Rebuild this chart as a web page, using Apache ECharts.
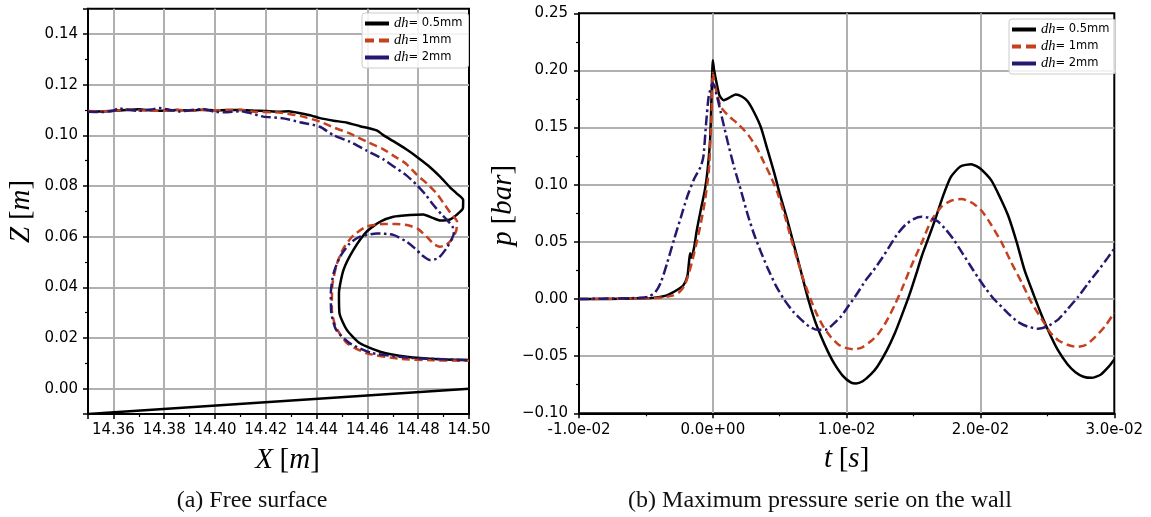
<!DOCTYPE html>
<html><head><meta charset="utf-8">
<script src="https://cdn.jsdelivr.net/npm/echarts@6/dist/echarts.min.js"></script>
<style>html,body{margin:0;padding:0;background:#fff}#c{width:1151px;height:517px}</style>
</head><body><div id="c"></div>
<script>
// ---------- (a) Free surface : X [m] / Z [m] ----------
const fsX_05 = [14.350,14.355,14.360,14.365,14.370,14.375,14.380,14.385,14.390,14.395,14.400,14.405,14.410,14.415,14.420,14.425,14.429,14.4335,14.438,14.4413,14.4467,14.4520,14.4571,14.4610,14.4640,14.4660,14.4702,14.4750,14.4794,14.4840,14.4886,14.4925,14.4951,14.4977,14.4976,14.4951,14.4925,14.4886,14.4860,14.4820,14.4768,14.4702,14.4650,14.4597,14.4545,14.4506,14.4488,14.4490,14.4519,14.4571,14.4650,14.4755,14.4886,14.5000];
const fsZ_05 = [0.1095,0.1094,0.1097,0.1100,0.1103,0.1098,0.1097,0.1100,0.1098,0.1101,0.1099,0.1100,0.1100,0.1098,0.1096,0.1093,0.1095,0.1087,0.1078,0.1068,0.1058,0.1050,0.1036,0.1027,0.1018,0.1003,0.0977,0.0947,0.0916,0.0880,0.0837,0.0795,0.0771,0.0745,0.0712,0.0686,0.0668,0.0664,0.0673,0.0688,0.0686,0.0679,0.0659,0.0620,0.0548,0.0469,0.0377,0.0298,0.0232,0.0179,0.0146,0.0126,0.0116,0.0113];
const fsX_1 = [14.350,14.355,14.360,14.365,14.370,14.375,14.380,14.385,14.390,14.395,14.400,14.405,14.410,14.415,14.420,14.425,14.4335,14.4413,14.4470,14.4530,14.4597,14.4663,14.4702,14.4750,14.4794,14.4840,14.4873,14.4905,14.4930,14.4953,14.4950,14.4935,14.4910,14.4885,14.4860,14.4833,14.4800,14.4760,14.4710,14.4663,14.4597,14.4545,14.4506,14.4479,14.4462,14.4460,14.4475,14.4519,14.4597,14.4728,14.4860,14.5000];
const fsZ_1 = [0.1096,0.1095,0.1097,0.1102,0.1099,0.1097,0.1097,0.1101,0.1097,0.1100,0.1099,0.1100,0.1101,0.1093,0.1092,0.1090,0.1077,0.1054,0.1030,0.1008,0.0975,0.0945,0.0920,0.0890,0.0845,0.0805,0.0770,0.0725,0.0690,0.0660,0.0625,0.0592,0.0568,0.0560,0.0572,0.0600,0.0630,0.0645,0.0650,0.0650,0.0640,0.0605,0.0555,0.0490,0.0410,0.0311,0.0245,0.0180,0.0140,0.0118,0.0112,0.0110];
const fsX_2 = [14.350,14.355,14.360,14.362,14.366,14.370,14.375,14.378,14.382,14.386,14.390,14.395,14.400,14.405,14.410,14.413,14.419,14.4269,14.4335,14.4413,14.4467,14.4530,14.4597,14.4663,14.4702,14.4750,14.4794,14.4830,14.4860,14.4890,14.4912,14.4935,14.4940,14.4930,14.4912,14.4879,14.4846,14.4814,14.4787,14.4755,14.4702,14.4637,14.4571,14.4531,14.4492,14.4467,14.4456,14.4458,14.4477,14.4531,14.4620,14.4768,14.4900,14.5000];
const fsZ_2 = [0.1093,0.1092,0.1097,0.1107,0.1100,0.1097,0.1102,0.1108,0.1101,0.1094,0.1099,0.1104,0.1093,0.1091,0.1096,0.1090,0.1074,0.1067,0.1052,0.1034,0.1000,0.0975,0.0940,0.0905,0.0878,0.0845,0.0805,0.0765,0.0725,0.0690,0.0668,0.0640,0.0613,0.0587,0.0555,0.0515,0.0508,0.0528,0.0554,0.0580,0.0607,0.0613,0.0600,0.0574,0.0521,0.0456,0.0377,0.0298,0.0232,0.0179,0.0140,0.0122,0.0116,0.0113];
const bedX = [14.35, 14.50];
const bedZ = [-0.01, 0.00];

// ---------- (b) Maximum pressure on the wall : t [s] / p [bar] ----------
const ptT_05 = [-0.0100,-0.0080,-0.0060,-0.0045,-0.0035,-0.0028,-0.0022,-0.0019,-0.0018,-0.0017,-0.0016,-0.0014,-0.0012,-0.0009,-0.0006,-0.0004,-0.0002,-0.0001,0.0000,0.0001,0.0003,0.0005,0.0008,0.0012,0.0017,0.0022,0.0026,0.0031,0.0036,0.0041,0.0046,0.0050,0.0055,0.0060,0.0065,0.0071,0.0076,0.0081,0.0086,0.0091,0.0097,0.0103,0.0107,0.0112,0.0118,0.0123,0.0130,0.0136,0.0141,0.0147,0.0152,0.0156,0.0161,0.0166,0.0172,0.0178,0.0185,0.0193,0.0200,0.0208,0.0215,0.0221,0.0227,0.0233,0.0240,0.0246,0.0252,0.0258,0.0265,0.0271,0.0277,0.0283,0.0290,0.0296,0.0300];
const ptP_05 = [0.000,0.000,0.0005,0.001,0.003,0.007,0.012,0.020,0.030,0.040,0.036,0.045,0.060,0.078,0.095,0.112,0.140,0.175,0.209,0.200,0.188,0.178,0.174,0.176,0.179,0.177,0.173,0.163,0.150,0.130,0.110,0.092,0.072,0.050,0.028,0.001,-0.018,-0.033,-0.046,-0.057,-0.067,-0.073,-0.074,-0.072,-0.066,-0.059,-0.045,-0.030,-0.015,0.004,0.022,0.037,0.053,0.069,0.090,0.107,0.116,0.118,0.114,0.104,0.088,0.072,0.050,0.025,0.003,-0.015,-0.031,-0.045,-0.057,-0.064,-0.068,-0.069,-0.066,-0.059,-0.053];
const ptT_1 = [-0.0100,-0.0060,-0.0040,-0.0030,-0.0025,-0.0021,-0.0018,-0.0015,-0.0012,-0.0009,-0.0006,-0.0003,-0.0001,0.0000,0.0002,0.0006,0.0012,0.0018,0.0024,0.0028,0.0033,0.0038,0.0043,0.0048,0.0053,0.0058,0.0063,0.0068,0.0073,0.0078,0.0083,0.0088,0.0094,0.0100,0.0106,0.0112,0.0118,0.0124,0.0130,0.0136,0.0141,0.0148,0.0156,0.0163,0.0171,0.0178,0.0186,0.0194,0.0201,0.0208,0.0216,0.0223,0.0231,0.0238,0.0246,0.0252,0.0258,0.0265,0.0272,0.0279,0.0286,0.0293,0.0300];
const ptP_1 = [0.000,0.0005,0.001,0.003,0.006,0.012,0.022,0.035,0.050,0.066,0.085,0.112,0.160,0.198,0.185,0.168,0.160,0.154,0.147,0.141,0.132,0.120,0.108,0.094,0.076,0.055,0.035,0.016,0.000,-0.014,-0.025,-0.033,-0.040,-0.043,-0.044,-0.042,-0.037,-0.030,-0.019,-0.005,0.008,0.028,0.049,0.068,0.081,0.086,0.0875,0.084,0.077,0.065,0.049,0.032,0.014,-0.003,-0.018,-0.029,-0.036,-0.040,-0.042,-0.040,-0.033,-0.024,-0.012];
const ptT_2 = [-0.0100,-0.0070,-0.0055,-0.0048,-0.0043,-0.0039,-0.0034,-0.0029,-0.0024,-0.0019,-0.0014,-0.0009,-0.0007,-0.0005,-0.0003,0.0000,0.0003,0.0006,0.0011,0.0016,0.0021,0.0026,0.0031,0.0036,0.0041,0.0047,0.0053,0.0060,0.0066,0.0072,0.0078,0.0084,0.0090,0.0096,0.0102,0.0108,0.0114,0.0120,0.0126,0.0132,0.0138,0.0144,0.0150,0.0156,0.0162,0.0168,0.0174,0.0180,0.0186,0.0192,0.0198,0.0204,0.0210,0.0216,0.0222,0.0228,0.0235,0.0243,0.0250,0.0258,0.0265,0.0273,0.0280,0.0288,0.0295,0.0300];
const ptP_2 = [0.000,0.0005,0.001,0.002,0.006,0.014,0.032,0.052,0.071,0.090,0.105,0.116,0.125,0.154,0.178,0.189,0.178,0.163,0.138,0.115,0.095,0.074,0.056,0.041,0.027,0.012,0.000,-0.011,-0.018,-0.024,-0.027,-0.027,-0.022,-0.015,-0.005,0.005,0.016,0.025,0.035,0.046,0.057,0.065,0.070,0.072,0.071,0.068,0.061,0.052,0.041,0.030,0.019,0.009,0.000,-0.007,-0.014,-0.020,-0.024,-0.026,-0.024,-0.018,-0.009,0.002,0.013,0.025,0.036,0.044];

const seriesNames = ['0.5mm', '1mm', '2mm'];
const captions = ['(a) Free surface', '(b) Maximum pressure serie on the wall'];

// ---------- styling ----------
const COLORS = ['#000000', '#c4401f', '#26186e'];
const DASH = ['solid', [8, 4.5], [10, 3.5, 2.5, 3.5]];
const LEGEND_ICONS = [
  'path://M0,0h24v4h-24z',
  'path://M0,0h9v4h-9z M14,0h10v4h-10z',
  'path://M0,0h24v4h-24z'
];
const LW = 2.5;
const GRID_C = '#b0b0b0';
const TICK_FONT = 'DejaVu Sans';
const TICK_SIZE = 15;
const zip = (a, b) => a.map((v, i) => [v, b[i]]);

function expFmt(v) {
  const s = v.toExponential(1);
  const [m, e] = s.split('e');
  const n = parseInt(e, 10);
  return m + 'e' + (n < 0 ? '-' : '+') + String(Math.abs(n)).padStart(2, '0');
}
const fix2 = v => v.toFixed(2).replace('-', '\u2212');

const nameRich = {
  i: { fontFamily: 'Liberation Serif', fontStyle: 'italic', fontSize: 29, color: '#000' },
  r: { fontFamily: 'Liberation Serif', fontSize: 29, color: '#000' }
};

function baseAxis(extra) {
  return Object.assign({
    type: 'value',
    axisLine: { show: true, onZero: false, lineStyle: { color: '#000', width: 2 } },
    axisTick: { show: true, length: 5, lineStyle: { color: '#000', width: 1.5 } },
    minorTick: { show: true, splitNumber: 2, length: 3, lineStyle: { color: '#000', width: 1.2 } },
    splitLine: { show: true, showMinLine: false, showMaxLine: false, lineStyle: { color: GRID_C, width: 2 } },
    nameLocation: 'middle',
    nameTextStyle: { rich: nameRich }
  }, extra);
}
function lbl(extra) {
  return Object.assign({ color: '#000', fontFamily: TICK_FONT, fontSize: TICK_SIZE }, extra);
}

function lineSeries(name, data, idx, axisIdx) {
  return {
    type: 'line', name: name, data: data,
    xAxisIndex: axisIdx, yAxisIndex: axisIdx,
    symbol: 'none', showSymbol: false, smooth: 0.2, animation: false,
    lineStyle: { color: COLORS[idx], width: LW, type: DASH[idx], cap: 'butt' },
    itemStyle: { color: COLORS[idx] },
    z: 3 + idx
  };
}

function legendCfg(left, top) {
  return {
    orient: 'vertical', left: left, top: top,
    data: seriesNames.map((n, i) => ({ name: n, icon: LEGEND_ICONS[i], itemStyle: { color: COLORS[i] } })),
    itemWidth: 24, itemHeight: 12, itemGap: 2,
    padding: [3, 6, 3, 3],
    backgroundColor: 'rgba(255,255,255,0.85)',
    borderColor: '#cccccc', borderWidth: 1, borderRadius: 3,
    selectedMode: false,
    formatter: n => '{i|dh}{n|= ' + n + '}',
    textStyle: {
      rich: {
        i: { fontFamily: 'Liberation Serif', fontStyle: 'italic', fontSize: 14.5, lineHeight: 14, color: '#000' },
        n: { fontFamily: TICK_FONT, fontSize: 11.5, lineHeight: 14, color: '#000' }
      }
    }
  };
}

const chart = echarts.init(document.getElementById('c'), null, { renderer: 'canvas' });
chart.setOption({
  animation: false,
  backgroundColor: '#fff',
  title: [
    { text: captions[0], left: 247, top: 484, textAlign: 'center',
      textStyle: { fontFamily: 'Liberation Serif', fontWeight: 'normal', fontSize: 24, color: '#111' } },
    { text: captions[1], left: 815, top: 484, textAlign: 'center',
      textStyle: { fontFamily: 'Liberation Serif', fontWeight: 'normal', fontSize: 24, color: '#111' } }
  ],
  legend: [legendCfg(362, 13), legendCfg(1009, 19)],
  grid: [
    { left: 88, top: 8.7, width: 381, height: 405.3, show: true, borderColor: '#000', borderWidth: 2, backgroundColor: 'transparent' },
    { left: 579, top: 13.3, width: 535.3, height: 400, show: true, borderColor: '#000', borderWidth: 2, backgroundColor: 'transparent' }
  ],
  xAxis: [
    baseAxis({ gridIndex: 0, min: 14.35, max: 14.50, splitNumber: 7,
      axisLabel: lbl({ margin: 9, showMinLabel: false, formatter: v => v.toFixed(2) }),
      name: '{i|X}  {r|[}{i|m}{r|]}', nameGap: 32,
      nameTextStyle: { rich: nameRich, padding: [0, 0, 0, 18] } }),
    baseAxis({ gridIndex: 1, min: -0.01, max: 0.03, interval: 0.01,
      axisLabel: lbl({ margin: 9, formatter: v => expFmt(v) }),
      name: '{i|t}  {r|[}{i|s}{r|]}', nameGap: 32 })
  ],
  yAxis: [
    baseAxis({ gridIndex: 0, min: -0.01, max: 0.15, splitNumber: 8,
      axisLabel: lbl({ margin: 10, showMinLabel: false, showMaxLabel: false, formatter: v => fix2(v) }),
      name: '{i|Z}  {r|[}{i|m}{r|]}', nameGap: 52 }),
    baseAxis({ gridIndex: 1, min: -0.10, max: 0.25, interval: 0.05,
      axisLabel: lbl({ margin: 11, formatter: v => fix2(v) }),
      name: '{i|p}  {r|[}{i|bar}{r|]}', nameGap: 47,
      nameTextStyle: { rich: nameRich, padding: [0, 0, 0, 16] } })
  ],
  series: [
    { type: 'line', name: 'bed', data: zip(bedX, bedZ), xAxisIndex: 0, yAxisIndex: 0, symbol: 'none',
      lineStyle: { color: '#000', width: LW }, z: 2 },
    lineSeries(seriesNames[0], zip(fsX_05, fsZ_05), 0, 0),
    lineSeries(seriesNames[1], zip(fsX_1, fsZ_1), 1, 0),
    lineSeries(seriesNames[2], zip(fsX_2, fsZ_2), 2, 0),
    lineSeries(seriesNames[0], zip(ptT_05, ptP_05), 0, 1),
    lineSeries(seriesNames[1], zip(ptT_1, ptP_1), 1, 1),
    lineSeries(seriesNames[2], zip(ptT_2, ptP_2), 2, 1)
  ]
});
</script></body></html>
